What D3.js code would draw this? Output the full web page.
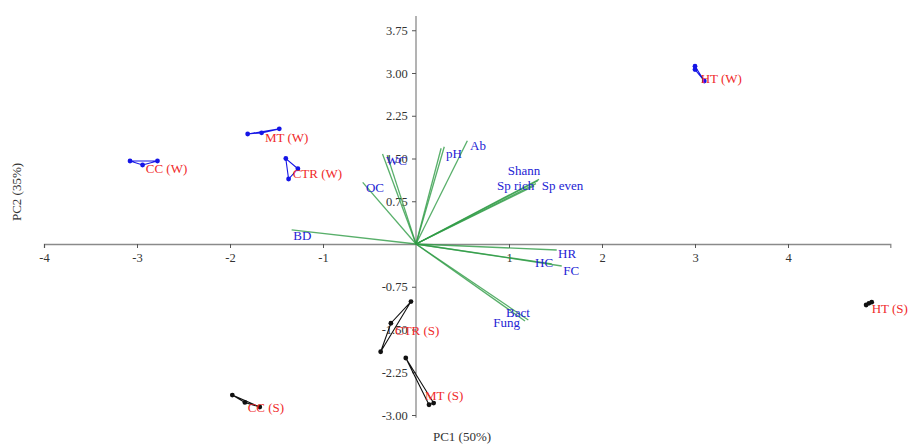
<!DOCTYPE html>
<html><head><meta charset="utf-8">
<script src="https://d3js.org/d3.v7.min.js"></script>
<style>body{margin:0;background:#fff}svg{display:block}</style>
</head><body>
<svg id="c" width="910" height="446"></svg>
<script>
// ---- data ----
const groupNames = ["CC (W)","MT (W)","CTR (W)","HT (W)","CTR (S)","MT (S)","CC (S)","HT (S)"];
const groupSeason = ["W","W","W","W","S","S","S","S"];
const groupPC1 = [
  [-3.075,-2.94,-2.78],
  [-1.81,-1.66,-1.47],
  [-1.40,-1.27,-1.37],
  [3.00,3.00,3.10],
  [-0.054,-0.27,-0.38],
  [-0.11,0.14,0.19],
  [-1.975,-1.84,-1.68],
  [4.84,4.87,4.90]
];
const groupPC2 = [
  [1.456,1.386,1.456],
  [1.93,1.95,2.02],
  [1.50,1.32,1.14],
  [3.12,3.06,2.86],
  [-1.01,-1.39,-1.89],
  [-2.00,-2.82,-2.79],
  [-2.65,-2.78,-2.86],
  [-1.07,-1.04,-1.02]
];
const groupLabelPC1 = [-2.906,-1.624,-1.326,3.061,-0.226,0.097,-1.81,4.90];
const groupLabelPC2 = [1.25,1.795,1.158,2.825,-1.596,-2.737,-2.942,-1.21];

const varNames = ["BD","OC","","WC","pH","","Ab","Shann","","Sp rich","Sp even","HR","HC","FC","Bact","Fung"];
const varPC1 = [-1.337,-0.573,-0.36,-0.31,0.304,0.27,0.552,1.323,1.31,1.29,1.27,1.513,1.46,1.567,1.208,1.172];
const varPC2 = [0.246,1.08,1.58,1.56,1.707,1.68,1.81,1.135,1.11,1.06,1.02,-0.105,-0.35,-0.386,-1.333,-1.35];
const varLabelPC1 = [-1.319,-0.538,null,-0.323,0.323,null,0.581,0.986,null,0.871,1.352,1.527,1.28,1.584,0.968,0.831];
const varLabelPC2 = [0.07,0.918,null,1.386,1.509,null,1.649,1.21,null,0.947,0.947,-0.246,-0.398,-0.544,-1.275,-1.456];

const xTicks = [-4,-3,-2,-1,1,2,3,4];
const yTicks = [-3.00,-2.25,-1.50,-0.75,0.75,1.50,2.25,3.00,3.75];
const xTitle = "PC1 (50%)";
const yTitle = "PC2 (35%)";

// ---- chart ----
const svg = d3.select("#c");
const font = "'Liberation Serif','Times New Roman',serif";
const x = d3.scaleLinear().domain([-4,5.1]).range([44,890.3]);
const y = d3.scaleLinear().domain([-3,4]).range([415,16]);
const hy = f => v => f(v).replace("\u2212","-");

// axes
const xAxis = svg.append("g").attr("transform",`translate(0,${y(0)})`)
  .call(d3.axisBottom(x).tickValues(xTicks).tickFormat(hy(d3.format("d"))).tickSizeOuter(0).tickSize(4));
const yAxis = svg.append("g").attr("transform",`translate(${x(0)},0)`)
  .call(d3.axisLeft(y).tickValues(yTicks).tickFormat(hy(d3.format(".2f"))).tickSizeOuter(0).tickSize(4));
[xAxis,yAxis].forEach(a=>{
  a.select(".domain").attr("stroke","#8a8a8a").attr("stroke-width",1.3);
  a.selectAll(".tick line").attr("stroke","#555");
  a.selectAll(".tick text").attr("fill","#333").attr("font-family",font).attr("font-size",12.5);
});
xAxis.selectAll(".tick text").attr("dy","0.9em");
yAxis.selectAll(".tick text").attr("dx","-0.1em");
yAxis.select(".domain").attr("d",`M0,${y(-3.05)}V${y(4)}`);

// titles
svg.append("text").attr("x",462).attr("y",441).attr("text-anchor","middle")
  .attr("font-family",font).attr("font-size",13).attr("fill","#333").text(xTitle);
svg.append("text").attr("transform","translate(21,192) rotate(-90)").attr("text-anchor","middle")
  .attr("font-family",font).attr("font-size",13).attr("fill","#333").text(yTitle);

// vectors
const vg = svg.append("g");
varPC1.forEach((v,i)=>{
  vg.append("line").attr("x1",x(0)).attr("y1",y(0)).attr("x2",x(v)).attr("y2",y(varPC2[i]))
    .attr("stroke","#2e9b45").attr("stroke-opacity",0.8).attr("stroke-width",1.3);
});
varNames.forEach((n,i)=>{
  if(!n) return;
  vg.append("text").attr("x",x(varLabelPC1[i])).attr("y",y(varLabelPC2[i]))
    .attr("font-family",font).attr("font-size",13).attr("fill","#2323d4").text(n);
});

// groups
const gg = svg.append("g");
groupNames.forEach((name,i)=>{
  const col = groupSeason[i]==="W" ? "#1515e6" : "#111";
  const pts = groupPC1[i].map((v,j)=>[x(v),y(groupPC2[i][j])]);
  const hull = d3.polygonHull(pts) || pts;
  gg.append("path").attr("d","M"+hull.map(p=>p.join(",")).join("L")+"Z")
    .attr("fill","none").attr("stroke",col).attr("stroke-width",1.1);
  pts.forEach(p=>gg.append("circle").attr("cx",p[0]).attr("cy",p[1]).attr("r",2.4).attr("fill",col));
  gg.append("text").attr("x",x(groupLabelPC1[i])).attr("y",y(groupLabelPC2[i]))
    .attr("font-family",font).attr("font-size",13).attr("fill","#f02a2a").text(name);
});
</script>
</body></html>
